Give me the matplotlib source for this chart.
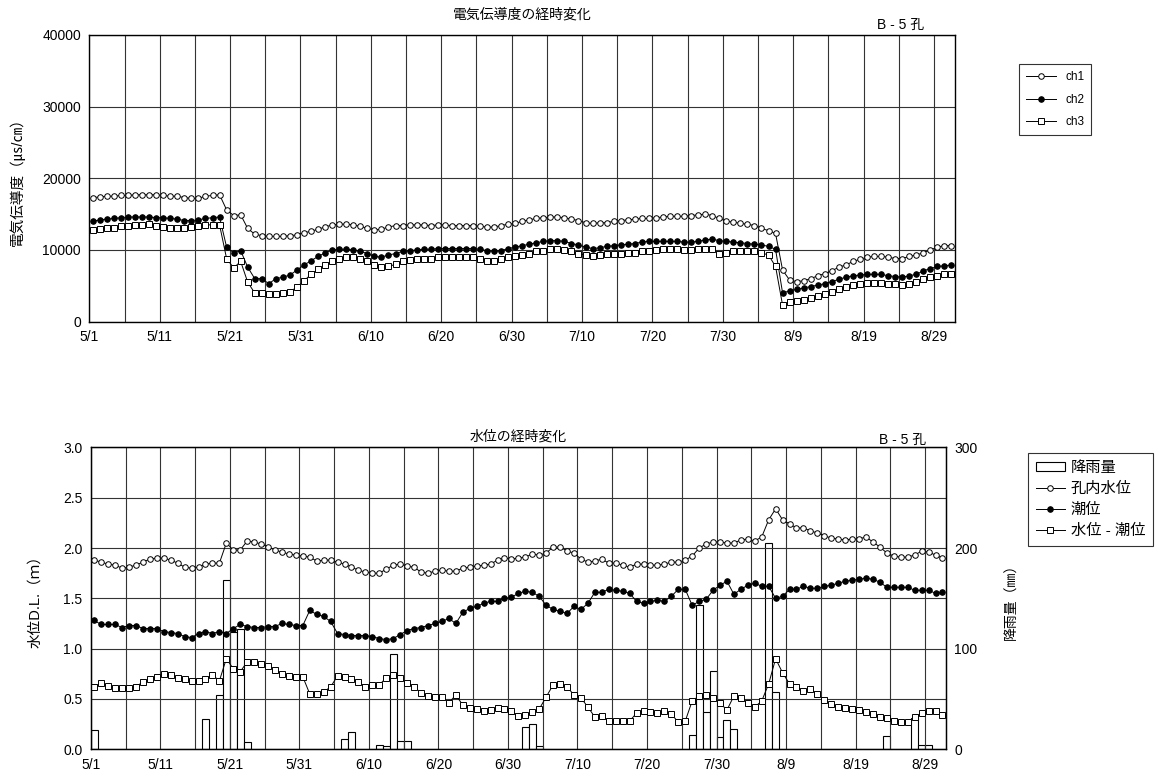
import numpy as np
import matplotlib
matplotlib.use('Agg')
import matplotlib.pyplot as plt
from matplotlib.lines import Line2D
from matplotlib.patches import Patch

plt.rcParams['font.family'] = ['Liberation Sans', 'Noto Sans CJK JP', 'DejaVu Sans']

# %% データ (5/1 ～ 8/31 の日別値)
date_labels = ['5/1', '5/11', '5/21', '5/31', '6/10', '6/20', '6/30',
               '7/10', '7/20', '7/30', '8/9', '8/19', '8/29']

# 電気伝導度 (μS/cm)
ch1 = [17300, 17400, 17500, 17500, 17600, 17600, 17700, 17700, 17700, 17700,
       17600, 17500, 17500, 17300, 17200, 17200, 17500, 17600, 17700, 15600,
       14800, 14900, 13000, 12200, 12000, 11900, 11900, 11900, 12000, 12100,
       12400, 12600, 12900, 13200, 13500, 13600, 13600, 13500, 13300, 13000,
       12800, 12900, 13200, 13400, 13400, 13500, 13500, 13500, 13400, 13500,
       13500, 13400, 13400, 13400, 13400, 13300, 13200, 13200, 13400, 13600,
       13700, 14000, 14200, 14400, 14500, 14600, 14600, 14500, 14300, 14100,
       13800, 13700, 13800, 13800, 14000, 14100, 14200, 14300, 14400, 14400,
       14500, 14600, 14700, 14700, 14700, 14800, 14900, 15000, 14800, 14400,
       14000, 13900, 13700, 13600, 13400, 13000, 12700, 12300, 7200, 5800,
       5600, 5700, 6000, 6400, 6700, 7100, 7600, 7900, 8400, 8700,
       9000, 9100, 9100, 9000, 8800, 8800, 9100, 9300, 9600, 10000,
       10400, 10600, 10600]
ch2 = [14000, 14200, 14300, 14400, 14500, 14600, 14600, 14600, 14600, 14500,
       14500, 14400, 14300, 14100, 14100, 14200, 14400, 14500, 14600, 10400,
       9600, 9900, 7600, 6000, 6000, 5300, 6000, 6200, 6500, 7200,
       7900, 8500, 9100, 9600, 10000, 10100, 10100, 10000, 9800, 9500,
       9100, 9000, 9300, 9500, 9800, 9900, 10000, 10100, 10100, 10200,
       10200, 10200, 10200, 10200, 10200, 10100, 9900, 9800, 9900, 10200,
       10400, 10600, 10800, 11000, 11200, 11300, 11300, 11200, 10900, 10700,
       10400, 10200, 10300, 10500, 10600, 10700, 10800, 10900, 11100, 11200,
       11200, 11200, 11200, 11200, 11100, 11100, 11200, 11400, 11500, 11300,
       11200, 11100, 11000, 10900, 10800, 10700, 10500, 10100, 4000, 4300,
       4500, 4700, 4900, 5100, 5300, 5600, 5900, 6200, 6400, 6500,
       6600, 6600, 6600, 6400, 6300, 6200, 6400, 6600, 7100, 7400,
       7700, 7800, 7900]
ch3 = [12800, 12900, 13000, 13100, 13300, 13400, 13500, 13500, 13600, 13400,
       13200, 13100, 13100, 13100, 13200, 13300, 13500, 13500, 13500, 8800,
       7500, 8400, 5500, 4000, 4000, 3900, 3900, 4000, 4200, 4800,
       5700, 6600, 7300, 7900, 8500, 8800, 9000, 9000, 8800, 8500,
       7900, 7600, 7700, 8000, 8500, 8600, 8700, 8700, 8800, 9000,
       9000, 9000, 9000, 9000, 9000, 8800, 8500, 8500, 8700, 9000,
       9200, 9300, 9500, 9800, 9900, 10100, 10100, 10000, 9800, 9500,
       9300, 9200, 9300, 9400, 9500, 9500, 9600, 9600, 9800, 9900,
       10000, 10100, 10100, 10100, 10000, 10000, 10100, 10100, 10200, 9500,
       9600, 9900, 9800, 9800, 9800, 9600, 9300, 7700, 2300, 2800,
       2900, 3000, 3300, 3600, 3900, 4200, 4500, 4900, 5100, 5300,
       5400, 5400, 5400, 5300, 5300, 5100, 5300, 5600, 5900, 6200,
       6400, 6600, 6600]

# 水位 (D.L. m)
well = [1.88, 1.86, 1.84, 1.83, 1.80, 1.81, 1.83, 1.86, 1.89, 1.90,
        1.90, 1.88, 1.85, 1.81, 1.80, 1.81, 1.84, 1.85, 1.85, 2.05,
        1.98, 1.98, 2.07, 2.06, 2.04, 2.01, 1.98, 1.96, 1.94, 1.93,
        1.92, 1.91, 1.87, 1.88, 1.88, 1.86, 1.84, 1.81, 1.78, 1.76,
        1.75, 1.75, 1.79, 1.83, 1.84, 1.82, 1.81, 1.76, 1.75, 1.77,
        1.78, 1.77, 1.77, 1.80, 1.81, 1.82, 1.83, 1.84, 1.88, 1.90,
        1.89, 1.90, 1.91, 1.94, 1.93, 1.95, 2.01, 2.01, 1.97, 1.95,
        1.89, 1.86, 1.87, 1.89, 1.85, 1.85, 1.83, 1.81, 1.84, 1.84,
        1.83, 1.83, 1.84, 1.86, 1.86, 1.88, 1.92, 2.00, 2.04, 2.06,
        2.06, 2.05, 2.05, 2.08, 2.09, 2.07, 2.11, 2.28, 2.39, 2.28,
        2.24, 2.20, 2.20, 2.17, 2.15, 2.12, 2.10, 2.09, 2.08, 2.09,
        2.09, 2.11, 2.06, 2.01, 1.95, 1.92, 1.91, 1.91, 1.93, 1.97,
        1.96, 1.93, 1.90]
tide = [1.28, 1.24, 1.24, 1.24, 1.21, 1.23, 1.23, 1.20, 1.20, 1.20,
        1.17, 1.16, 1.15, 1.12, 1.11, 1.15, 1.17, 1.15, 1.17, 1.15,
        1.20, 1.24, 1.22, 1.21, 1.21, 1.22, 1.22, 1.25, 1.24, 1.23,
        1.23, 1.38, 1.34, 1.32, 1.27, 1.15, 1.14, 1.13, 1.13, 1.13,
        1.12, 1.10, 1.09, 1.10, 1.14, 1.18, 1.20, 1.21, 1.23, 1.25,
        1.27, 1.30, 1.25, 1.36, 1.40, 1.42, 1.45, 1.47, 1.47, 1.50,
        1.51, 1.55, 1.57, 1.56, 1.52, 1.43, 1.39, 1.37, 1.35, 1.42,
        1.39, 1.45, 1.56, 1.56, 1.59, 1.58, 1.57, 1.55, 1.47, 1.45,
        1.47, 1.48, 1.47, 1.52, 1.59, 1.59, 1.43, 1.47, 1.49, 1.58,
        1.63, 1.67, 1.54, 1.59, 1.63, 1.65, 1.62, 1.62, 1.50, 1.52,
        1.59, 1.59, 1.62, 1.60, 1.60, 1.62, 1.63, 1.65, 1.67, 1.68,
        1.69, 1.70, 1.69, 1.66, 1.61, 1.61, 1.61, 1.61, 1.58, 1.58,
        1.58, 1.55, 1.56]
diff = [0.62, 0.66, 0.63, 0.61, 0.61, 0.61, 0.62, 0.67, 0.70, 0.72,
        0.75, 0.74, 0.71, 0.70, 0.68, 0.68, 0.70, 0.74, 0.68, 0.90,
        0.80, 0.77, 0.87, 0.87, 0.85, 0.83, 0.79, 0.75, 0.73, 0.72,
        0.72, 0.55, 0.55, 0.57, 0.62, 0.73, 0.72, 0.70, 0.67, 0.62,
        0.64, 0.64, 0.71, 0.74, 0.71, 0.66, 0.62, 0.56, 0.53, 0.52,
        0.52, 0.46, 0.54, 0.44, 0.41, 0.40, 0.38, 0.39, 0.41, 0.40,
        0.38, 0.33, 0.34, 0.37, 0.40, 0.52, 0.64, 0.65, 0.62, 0.54,
        0.51, 0.42, 0.32, 0.33, 0.28, 0.28, 0.28, 0.28, 0.36, 0.38,
        0.37, 0.36, 0.38, 0.35, 0.27, 0.28, 0.48, 0.53, 0.54, 0.51,
        0.46, 0.39, 0.53, 0.51, 0.46, 0.42, 0.48, 0.65, 0.90, 0.76,
        0.65, 0.62, 0.58, 0.60, 0.55, 0.49, 0.45, 0.42, 0.41, 0.40,
        0.39, 0.37, 0.35, 0.32, 0.31, 0.28, 0.27, 0.27, 0.32, 0.36,
        0.38, 0.38, 0.34]

# 降雨量 (mm) : 降雨のあった日 (5/1 からの日数) と量
rain_day = [0, 16, 18, 19, 20, 21, 22, 36, 37, 41, 42, 43, 44, 45, 62, 63, 64,
            86, 87, 88, 89, 90, 91, 92, 97, 98, 114, 118, 119, 120]
rain_mm = [19, 30, 54, 168, 117, 120, 7, 10, 17, 4, 3, 95, 8, 8, 22, 25, 3,
           14, 143, 37, 78, 12, 29, 20, 205, 57, 13, 31, 4, 4]

days = np.arange(len(ch1)) + 0.5   # 日平均 → 各日の正午に打点
n_days = len(ch1)

mk = dict(markersize=4.0, markeredgewidth=0.7, linewidth=0.7, color='black')


def setup_xaxis(ax):
    ax.set_xlim(0, n_days)
    ax.set_xticks(np.arange(0, n_days, 10))
    ax.set_xticklabels(date_labels)
    ax.set_xticks(np.arange(5, n_days, 10), minor=True)
    ax.tick_params(axis='both', which='both', length=0, labelsize=10, pad=6)
    ax.grid(which='both', axis='x', color='#333333', linewidth=0.8)
    ax.grid(which='major', axis='y', color='#333333', linewidth=0.8)
    for s in ax.spines.values():
        s.set_linewidth(1.0)


fig = plt.figure(figsize=(11.59, 7.80), dpi=100)

# %% 電気伝導度の経時変化
ax1 = fig.add_axes([0.0771, 0.5876, 0.7469, 0.3677])
ax1.plot(days, ch1, marker='o', markerfacecolor='white', label='ch1', **mk)
ax1.plot(days, ch2, marker='o', markerfacecolor='black', label='ch2', **mk)
ax1.plot(days, ch3, marker='s', markerfacecolor='white', label='ch3', **mk)
ax1.set_ylim(0, 40000)
ax1.set_yticks([0, 10000, 20000, 30000, 40000])
setup_xaxis(ax1)
ax1.set_axisbelow(True)
ax1.set_ylabel('電気伝導度（㎲/㎝）', fontsize=10.5)
ax1.yaxis.set_label_coords(-0.075, 0.5)
ax1.set_title('電気伝導度の経時変化', fontsize=10, pad=12)
ax1.text(0.937, 1.022, 'B - 5 孔', transform=ax1.transAxes, fontsize=10, ha='center')
leg1 = ax1.legend(loc='upper left', bbox_to_anchor=(1.074, 0.8985), fontsize=8.5,
                  frameon=True, fancybox=False, edgecolor='black',
                  handlelength=2.5, labelspacing=0.9, borderpad=0.6,
                  borderaxespad=0)
leg1.get_frame().set_linewidth(0.8)

# %% 水位の経時変化
ax2 = fig.add_axes([0.0783, 0.0394, 0.7379, 0.387])
axr = ax2.twinx()
axr.bar(np.array(rain_day), rain_mm, width=1.0, align='edge',
        facecolor='white', edgecolor='black', linewidth=0.8)
axr.set_ylim(0, 300)
axr.set_yticks([0, 100, 200, 300])
axr.tick_params(axis='y', length=0, labelsize=10, pad=6)
axr.set_ylabel('降雨量（㎜）', fontsize=10)
axr.yaxis.set_label_coords(1.068, 0.5)
ax2.set_zorder(axr.get_zorder() + 1)
ax2.patch.set_visible(False)

ax2.plot(days, well, marker='o', markerfacecolor='white', **mk)
ax2.plot(days, tide, marker='o', markerfacecolor='black', **mk)
ax2.plot(days, diff, marker='s', markerfacecolor='white', **mk)
ax2.set_ylim(0, 3.0)
ax2.set_yticks(np.arange(0, 3.01, 0.5))
ax2.yaxis.set_major_formatter(matplotlib.ticker.FormatStrFormatter('%.1f'))
setup_xaxis(ax2)
axr.grid(False)
axr.set_xlim(0, n_days)
ax2.set_ylabel('水位D.L.（ｍ）', fontsize=10.5)
ax2.yaxis.set_label_coords(-0.057, 0.5)
ax2.set_title('水位の経時変化', fontsize=10, pad=5)
ax2.text(0.949, 1.012, 'B - 5 孔', transform=ax2.transAxes, fontsize=10, ha='center')

handles = [Patch(facecolor='white', edgecolor='black', linewidth=0.8),
           Line2D([], [], marker='o', markerfacecolor='white', **mk),
           Line2D([], [], marker='o', markerfacecolor='black', **mk),
           Line2D([], [], marker='s', markerfacecolor='white', **mk)]
labels = ['降雨量', '孔内水位', '潮位', '水位 - 潮位']
leg2 = ax2.legend(handles, labels, loc='upper left', bbox_to_anchor=(1.096, 0.981),
                  fontsize=11, frameon=True, fancybox=False, edgecolor='black',
                  handlelength=1.9, handleheight=0.6, handletextpad=0.4,
                  labelspacing=0.45, borderpad=0.5, borderaxespad=0)
leg2.get_frame().set_linewidth(0.8)

fig.savefig('out.png', dpi=100)
